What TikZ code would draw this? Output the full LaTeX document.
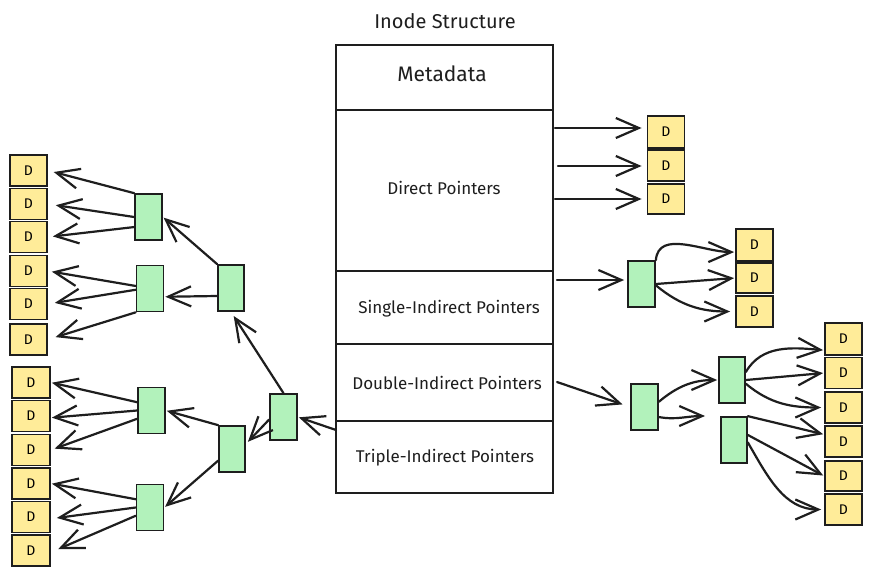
\documentclass[tikz,border=0pt]{standalone}
\usepackage{fontspec}
\setmainfont{Fira Sans}
\usetikzlibrary{arrows.meta}
\definecolor{ink}{HTML}{1E1E1E}
\definecolor{dfill}{HTML}{FFEC99}
\definecolor{gfill}{HTML}{B2F2BB}
\tikzset{
  dbox/.style={draw=ink,line width=1.8pt,fill=dfill,minimum width=37pt,minimum height=31pt,inner sep=0pt,font=\fontsize{14}{14}\selectfont},
  gbox/.style={draw=ink,line width=1.7pt,fill=gfill,minimum width=27pt,minimum height=46pt,inner sep=0pt},
  arr/.style={draw=ink,line width=2.2pt,line cap=round,-{Straight Barb[length=23pt,width=20pt,line width=2.2pt]}},
  lbl/.style={font=\fontsize{17}{17}\selectfont,text=ink},
}
\begin{document}
\begin{tikzpicture}[x=1pt,y=1pt]
\useasboundingbox[fill=white] (0,0) rectangle (876,-576);
% inode structure
\node[lbl,font=\fontsize{20}{20}\selectfont] (title) at (445,-21) {Inode Structure};
\node[draw=ink,line width=1.6pt,minimum width=217pt,minimum height=448pt,inner sep=0pt] (inode) at (444.5,-269) {};
\draw[ink,line width=1.6pt] (336,-110) -- (553,-110);
\draw[ink,line width=1.6pt] (336,-271) -- (553,-271);
\draw[ink,line width=1.6pt] (336,-344) -- (553,-344);
\draw[ink,line width=1.6pt] (336,-421) -- (553,-421);
\node[lbl,font=\fontsize{21}{21}\selectfont] (meta) at (442,-74) {Metadata};
\node[lbl] (direct) at (444,-188) {Direct Pointers};
\node[lbl] (single) at (449,-309) {Single-Indirect Pointers};
\node[lbl] (double) at (447,-383) {Double-Indirect Pointers};
\node[lbl] (triple) at (445,-458) {Triple-Indirect Pointers};
% coordinates on the inode edges
\coordinate (p1) at (555,-128);
\coordinate (p2) at (558,-166);
\coordinate (p3) at (555,-199);
\coordinate (ps) at (557,-280);
\coordinate (pd) at (557,-382);
\coordinate (pt) at (336,-430);
% direct blocks
\node[dbox,minimum height=32pt] (dd1) at (666,-132) {D};
\node[dbox] (dd2) at (666,-165.5) {D};
\node[dbox,minimum height=30pt] (dd3) at (666,-199) {D};
\draw[arr,shorten >=5pt] (p1) -- (p1 -| dd1.west);
\draw[arr,shorten >=5pt] (p2) -- (p2 -| dd2.west);
\draw[arr,shorten >=5pt] (p3) -- (p3 -| dd3.west);
% single indirect
\node[gbox] (gs1) at (641.5,-284) {};
\node[dbox,minimum height=32pt] (sd1) at (754.5,-245) {D};
\node[dbox,minimum height=30pt] (sd2) at (754.5,-278) {D};
\node[dbox] (sd3) at (754.5,-311.5) {D};
\draw[arr,shorten >=3pt] (ps) -- (ps -| gs1.west);
\draw[arr,shorten >=1pt] (gs1.north east) to[out=85,in=180] (sd1.-160);
\draw[arr,shorten >=1pt] (gs1.east) -- (sd2.west);
\draw[arr,shorten >=5pt] (gs1.-5) to[out=-40,in=180] (sd3.west);
% double indirect
\node[gbox] (gd1) at (644.5,-407) {};
\node[gbox,minimum width=26pt] (gd2a) at (732,-380) {};
\node[gbox,minimum width=26pt] (gd2b) at (734,-440) {};
\coordinate (gdx) at (705,-416);
\node[dbox,minimum height=32pt] (rd1) at (843.5,-339) {D};
\node[dbox] (rd2) at (843.5,-373) {D};
\node[dbox] (rd3) at (843.5,-407.5) {D};
\node[dbox] (rd4) at (843.5,-441.5) {D};
\node[dbox,minimum height=30pt] (rd5) at (843.5,-476) {D};
\node[dbox] (rd6) at (843.5,-509.5) {D};
\draw[arr,shorten >=8pt] (pd) -- (gd1.west);
\draw[arr,shorten >=1pt] (gd1.20) to[out=40,in=180] (gd2a.west);
\draw[arr] (gd1.-35) to[out=-10,in=180] (gdx);
\draw[arr,shorten >=1pt] (gd2a.30) to[out=60,in=175] (rd1.-150);
\draw[arr,shorten >=1pt] (gd2a.east) -- (rd2.west);
\draw[arr,shorten >=3pt] (gd2a.-15) to[out=-40,in=180] (rd3.west);
\draw[arr,shorten >=1pt] (gd2b.north east) -- (rd4.160);
\draw[arr,shorten >=1pt] (gd2b.20) -- (rd5.west);
\draw[arr,shorten >=3pt] (gd2b.-10) to[out=-60,in=180] (rd6.west);
% triple indirect
\node[gbox] (t1) at (283.5,-417) {};
\node[gbox,minimum width=26pt] (t2a) at (231,-288) {};
\node[gbox,minimum width=26pt] (t2b) at (232,-449) {};
\node[gbox] (t3a) at (148.5,-217) {};
\node[gbox] (t3b) at (150,-288.5) {};
\node[gbox] (t3c) at (151.5,-410.5) {};
\node[gbox] (t3d) at (150,-507.5) {};
\node[dbox] (u1) at (28.5,-170.5) {D};
\node[dbox] (u2) at (28.5,-204) {D};
\node[dbox] (u3) at (28.5,-237) {D};
\node[dbox] (u4) at (28.5,-271) {D};
\node[dbox] (u5) at (28.5,-304) {D};
\node[dbox] (u6) at (28.5,-339.5) {D};
\node[dbox,minimum width=38pt] (l1) at (31,-382.5) {D};
\node[dbox,minimum width=38pt] (l2) at (31,-416) {D};
\node[dbox,minimum width=38pt] (l3) at (31,-450) {D};
\node[dbox,minimum width=38pt] (l4) at (31,-483.5) {D};
\node[dbox,minimum width=38pt] (l5) at (31,-517) {D};
\node[dbox,minimum width=38pt] (l6) at (31,-550.5) {D};
\draw[arr,shorten >=1pt] (pt) -- (t1.east);
\draw[arr,shorten >=5pt] (t1.north) -- (t2a.south);
\draw[arr,shorten >=3pt] (t1.-170) -- (t2b.20);
\draw[arr,shorten >=1pt] (t2a.north west) -- (t3a.east);
\draw[arr,shorten >=1pt] (t2a.-150) -- (t3b.-30);
\draw[arr,shorten >=1pt] (t2b.north west) -- (t3c.east);
\draw[arr,shorten >=1pt] (t2b.-140) -- (t3d.east);
\draw[arr,shorten >=6pt] (t3a.north west) -- (u1.east);
\draw[arr,shorten >=8pt] (t3a.west) -- (u2.east);
\draw[arr,shorten >=5pt] (t3a.-145) -- (u3.east);
\draw[arr,shorten >=4pt] (t3b.170) -- (u4.east);
\draw[arr,shorten >=7pt] (t3b.-175) -- (u5.east);
\draw[arr,shorten >=8pt] (t3b.south west) -- (u6.east);
\draw[arr,shorten >=1pt] (t3c.150) -- (l1.east);
\draw[arr,shorten >=1pt] (t3c.west) -- (l2.-5);
\draw[arr,shorten >=4pt] (t3c.-150) -- (l3.east);
\draw[arr,shorten >=1pt] (t3d.150) -- (l4.east);
\draw[arr,shorten >=6pt] (t3d.west) -- (l5.-5);
\draw[arr,shorten >=8pt] (t3d.-150) -- (l6.-5);
\end{tikzpicture}
\end{document}
